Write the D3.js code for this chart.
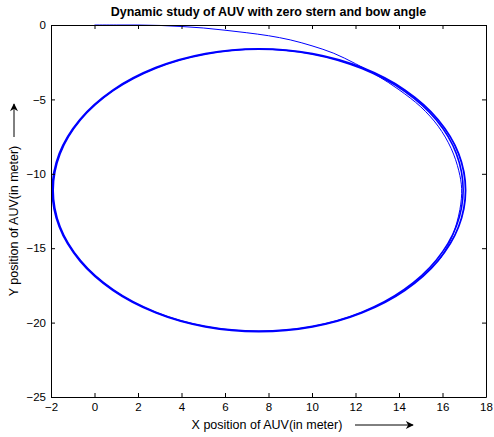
<!DOCTYPE html>
<html>
<head>
<meta charset="utf-8">
<script src="https://cdn.jsdelivr.net/npm/d3@7"></script>
<style>
  html, body { margin: 0; padding: 0; background: #fff; }
  svg { display: block; font-family: "Liberation Sans", Arial, sans-serif; }
</style>
</head>
<body>
<svg id="chart" width="494" height="437"></svg>
<script>
// Axis ticks
const xTicks = [-2, 0, 2, 4, 6, 8, 10, 12, 14, 16, 18];
const yTicks = [0, -5, -10, -15, -20, -25];

// Initial run of the vehicle from the origin until it settles on its turning circle
const startX = [0, 1, 2, 3, 4, 5, 6, 7, 8, 9, 10, 11, 12, 13, 14, 15, 15.8, 16.4, 16.75, 16.88, 16.8, 16.45, 15.9];
const startY = [0, 0, 0, -0.03, -0.1, -0.2, -0.35, -0.52, -0.72, -1.0, -1.4, -1.9, -2.6, -3.4, -4.35, -5.5, -6.8, -8.3, -9.8, -11.0, -12.4, -14.2, -15.7];

// Steady turning circle (repeated laps overlap into one heavy line)
const loopX = [17.06, 16.74, 15.79, 14.28, 12.31, 10.02, 7.56, 5.10, 2.81, 0.84, -0.67, -1.62,
               -1.94, -1.62, -0.67, 0.84, 2.81, 5.10, 7.56, 10.02, 12.31, 14.28, 15.79, 16.74];
const loopY = [-11.1, -8.64, -6.35, -4.38, -2.87, -1.92, -1.6, -1.92, -2.87, -4.38, -6.35, -8.64,
               -11.1, -13.56, -15.85, -17.82, -19.33, -20.28, -20.6, -20.28, -19.33, -17.82, -15.85, -13.56];
// A second, slightly tighter lap
const loop2X = [16.95, 16.64, 15.72, 14.24, 12.29, 10.02, 7.56, 5.10, 2.82, 0.86, -0.64, -1.58,
                -1.9, -1.58, -0.64, 0.86, 2.82, 5.10, 7.56, 10.02, 12.29, 14.24, 15.72, 16.64];
const loop2Y = [-11.1, -8.66, -6.39, -4.44, -2.93, -1.96, -1.63, -1.96, -2.9, -4.41, -6.37, -8.65,
                -11.1, -13.56, -15.83, -17.79, -19.3, -20.25, -20.57, -20.25, -19.3, -17.77, -15.79, -13.51];

const svg = d3.select("#chart");
const margin = { left: 51, right: 8, top: 25, bottom: 40 };
const W = 494, H = 437;

const x = d3.scaleLinear().domain([-2, 18]).range([margin.left, W - margin.right]);
const y = d3.scaleLinear().domain([-25, 0]).range([H - margin.bottom, margin.top]);

// Traces
const line = d3.line().x(d => x(d[0])).y(d => y(d[1])).curve(d3.curveCatmullRom.alpha(0.5));
const loopLine = d3.line().x(d => x(d[0])).y(d => y(d[1])).curve(d3.curveCatmullRomClosed.alpha(0.5));

const plot = svg.append("g");
plot.append("path")
  .datum(startX.map((v, i) => [v, startY[i]]))
  .attr("d", line)
  .attr("fill", "none").attr("stroke", "#0000ff").attr("stroke-width", 1);
plot.append("path")
  .datum(loop2X.map((v, i) => [v, loop2Y[i]]))
  .attr("d", loopLine)
  .attr("fill", "none").attr("stroke", "#0000ff").attr("stroke-width", 1.6);
plot.append("path")
  .datum(loopX.map((v, i) => [v, loopY[i]]))
  .attr("d", loopLine)
  .attr("fill", "none").attr("stroke", "#0000ff").attr("stroke-width", 1.8);

// Axes: ticks inward on all four sides, labels on bottom and left
const tickLen = 4;
const fmt = d3.format("d");
const axB = svg.append("g").attr("transform", `translate(0,${y(-25)})`)
  .call(d3.axisBottom(x).tickValues(xTicks).tickSizeInner(-tickLen).tickSizeOuter(0).tickPadding(6).tickFormat(fmt));
const axT = svg.append("g").attr("transform", `translate(0,${y(0)})`)
  .call(d3.axisTop(x).tickValues(xTicks).tickSizeInner(-tickLen).tickSizeOuter(0).tickFormat(""));
const axL = svg.append("g").attr("transform", `translate(${x(-2)},0)`)
  .call(d3.axisLeft(y).tickValues(yTicks).tickSizeInner(-tickLen).tickSizeOuter(0).tickPadding(5).tickFormat(fmt));
const axR = svg.append("g").attr("transform", `translate(${x(18)},0)`)
  .call(d3.axisRight(y).tickValues(yTicks).tickSizeInner(-tickLen).tickSizeOuter(0).tickFormat(""));

[axB, axT, axL, axR].forEach(g => {
  g.selectAll(".domain").attr("stroke", "#000").attr("stroke-width", 1);
  g.selectAll(".tick line").attr("stroke", "#000");
  g.selectAll("text").attr("font-size", 11.5).attr("fill", "#000")
    .attr("font-family", "Liberation Sans, Arial, sans-serif");
});

// Title
svg.append("text")
  .attr("x", (x(-2) + x(18)) / 2).attr("y", 16)
  .attr("text-anchor", "middle").attr("font-size", 12.5).attr("font-weight", "bold")
  .text("Dynamic study of AUV with zero stern and bow angle");

// Arrow marker for the axis-direction arrows
svg.append("defs").append("marker")
  .attr("id", "arr").attr("viewBox", "0 0 10 10").attr("refX", 9).attr("refY", 5)
  .attr("markerWidth", 10).attr("markerHeight", 8).attr("markerUnits", "userSpaceOnUse")
  .attr("orient", "auto")
  .append("path").attr("d", "M0,0 L10,5 L0,10 L3,5 Z").attr("fill", "#000");

// X label with arrow
svg.append("text")
  .attr("x", 267).attr("y", 429)
  .attr("text-anchor", "middle").attr("font-size", 12.5)
  .text("X position of AUV(in meter)");
svg.append("line")
  .attr("x1", 355).attr("y1", 425).attr("x2", 413).attr("y2", 425)
  .attr("stroke", "#000").attr("stroke-width", 1).attr("marker-end", "url(#arr)");

// Y label with arrow
svg.append("text")
  .attr("transform", "translate(18,221) rotate(-90)")
  .attr("text-anchor", "middle").attr("font-size", 12.5)
  .text("Y position of AUV(in meter)");
svg.append("line")
  .attr("x1", 14).attr("y1", 137).attr("x2", 14).attr("y2", 104)
  .attr("stroke", "#000").attr("stroke-width", 1).attr("marker-end", "url(#arr)");
</script>
</body>
</html>
